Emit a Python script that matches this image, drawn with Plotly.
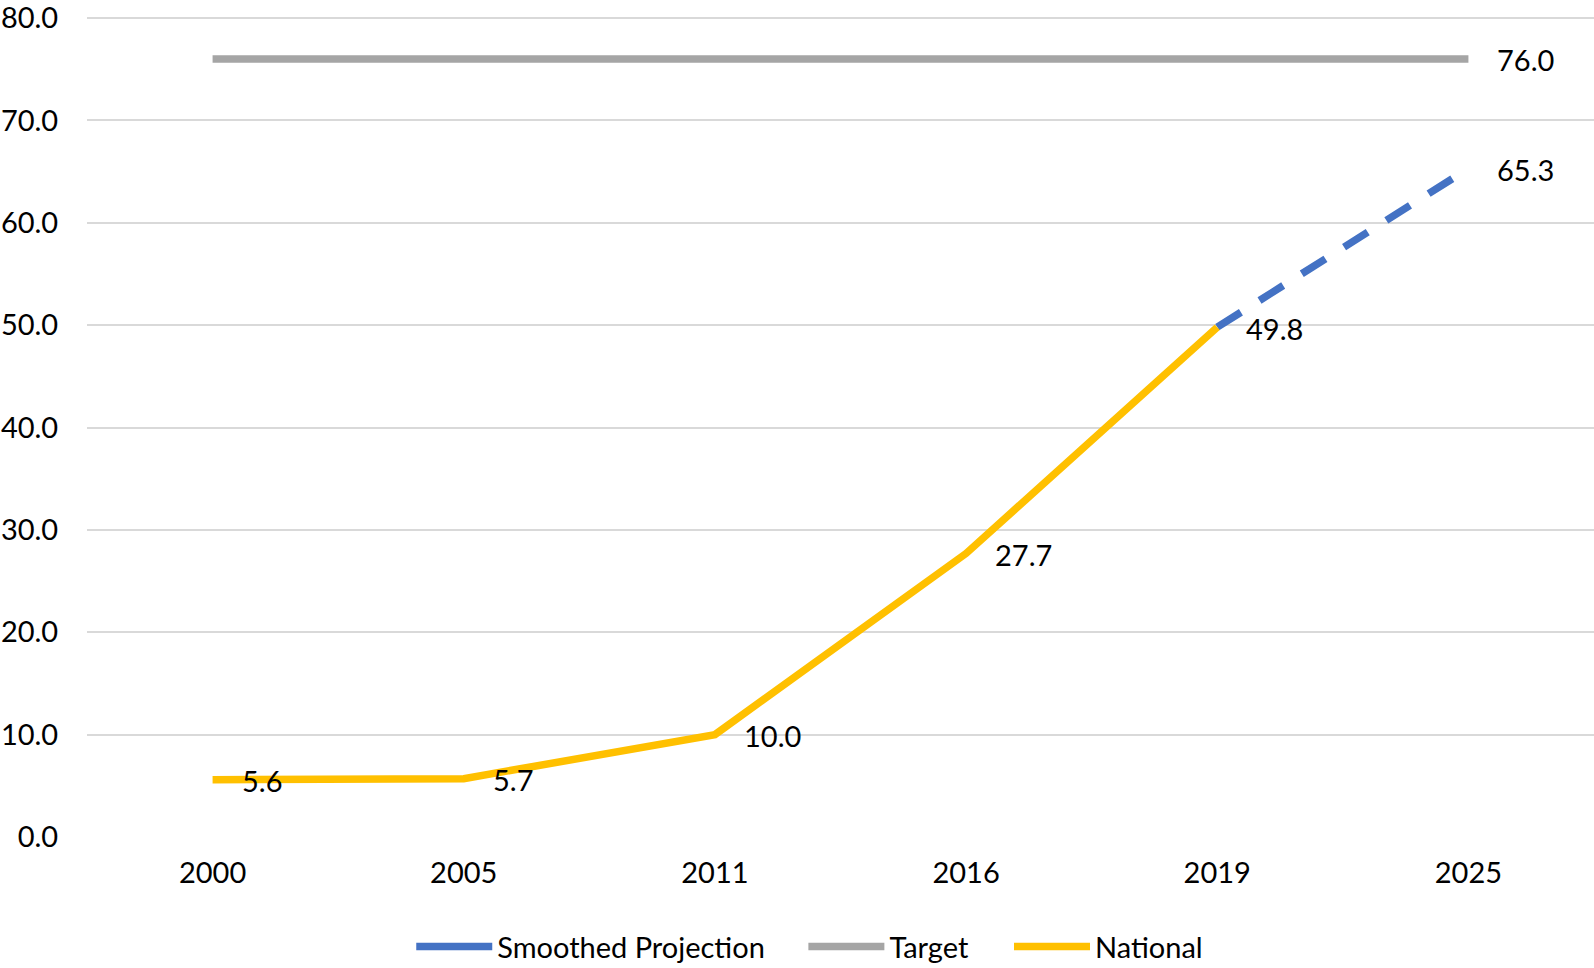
import plotly.graph_objects as go

categories = ["2000", "2005", "2011", "2016", "2019", "2025"]

national_x = ["2000", "2005", "2011", "2016", "2019"]
national_y = [5.6, 5.7, 10.0, 27.7, 49.8]

projection_x = ["2019", "2025"]
projection_y = [49.8, 65.3]

target_x = ["2000", "2005", "2011", "2016", "2019", "2025"]
target_y = [76.0, 76.0, 76.0, 76.0, 76.0, 76.0]

y_ticks = [0, 10, 20, 30, 40, 50, 60, 70, 80]

FONT = "Lato"
FS = 29
BLUE, GRAY, GOLD = "#4472C4", "#A5A5A5", "#FFC000"
LW = 7.5

fig = go.Figure()
fig.add_trace(go.Scatter(x=projection_x, y=projection_y, mode="lines",
                         name="Smoothed Projection", showlegend=False,
                         line=dict(color=BLUE, width=LW, dash="28px,22px")))
fig.add_trace(go.Scatter(x=target_x, y=target_y, mode="lines", name="Target",
                         showlegend=False, line=dict(color=GRAY, width=LW)))
fig.add_trace(go.Scatter(x=national_x, y=national_y, mode="lines", name="National",
                         showlegend=False, line=dict(color=GOLD, width=LW)))

# legend entries (solid keys as in the reference), one legend box each
legend_items = [("Smoothed Projection", BLUE, "legend"),
                ("Target", GRAY, "legend2"),
                ("National", GOLD, "legend3")]
for name, color, lg in legend_items:
    fig.add_trace(go.Scatter(x=[None], y=[None], mode="lines", name=name,
                             legend=lg, line=dict(color=color, width=LW)))

labels = list(zip(national_x, national_y))
labels.append((projection_x[-1], projection_y[-1]))
labels.append((target_x[-1], target_y[-1]))

for x, y in labels:
    fig.add_annotation(x=categories.index(x), y=y, text=f"{y:.1f}", showarrow=False,
                       xanchor="left", yanchor="middle", xshift=27, yshift=-1,
                       font=dict(family=FONT, size=FS, color="#000000"))

def legend_box(xpos):
    return dict(orientation="h", xref="container", yref="container",
                x=xpos, xanchor="left", y=0.022, yanchor="middle",
                bgcolor="rgba(0,0,0,0)",
                font=dict(family=FONT, size=FS, color="#000000"),
                itemwidth=76)

fig.update_layout(
    width=1594, height=968,
    margin=dict(l=87, r=0, t=17, b=131, autoexpand=False),
    paper_bgcolor="white", plot_bgcolor="white",
    font=dict(family=FONT, size=FS, color="#000000"),
    showlegend=True,
    legend=legend_box(0.258),
    legend2=legend_box(0.504),
    legend3=legend_box(0.633),
    xaxis=dict(type="category", categoryorder="array", categoryarray=categories,
               range=[-0.5, 5.5], showgrid=False, zeroline=False, showline=False,
               ticks="outside", ticklen=10, tickcolor="rgba(0,0,0,0)",
               tickfont=dict(family=FONT, size=FS, color="#000000")),
    yaxis=dict(range=[0, 80.1], tickvals=y_ticks, tickformat=".1f",
               showgrid=True, gridcolor="#D9D9D9", gridwidth=2,
               zeroline=False, showline=False, ticklabeloverflow="allow",
               ticks="outside", ticklen=22, tickcolor="rgba(0,0,0,0)",
               tickfont=dict(family=FONT, size=FS, color="#000000")),
)

fig.write_html("out.html", config={"displayModeBar": False},
               post_script="document.body.style.margin='0';document.body.style.overflow='hidden';")
